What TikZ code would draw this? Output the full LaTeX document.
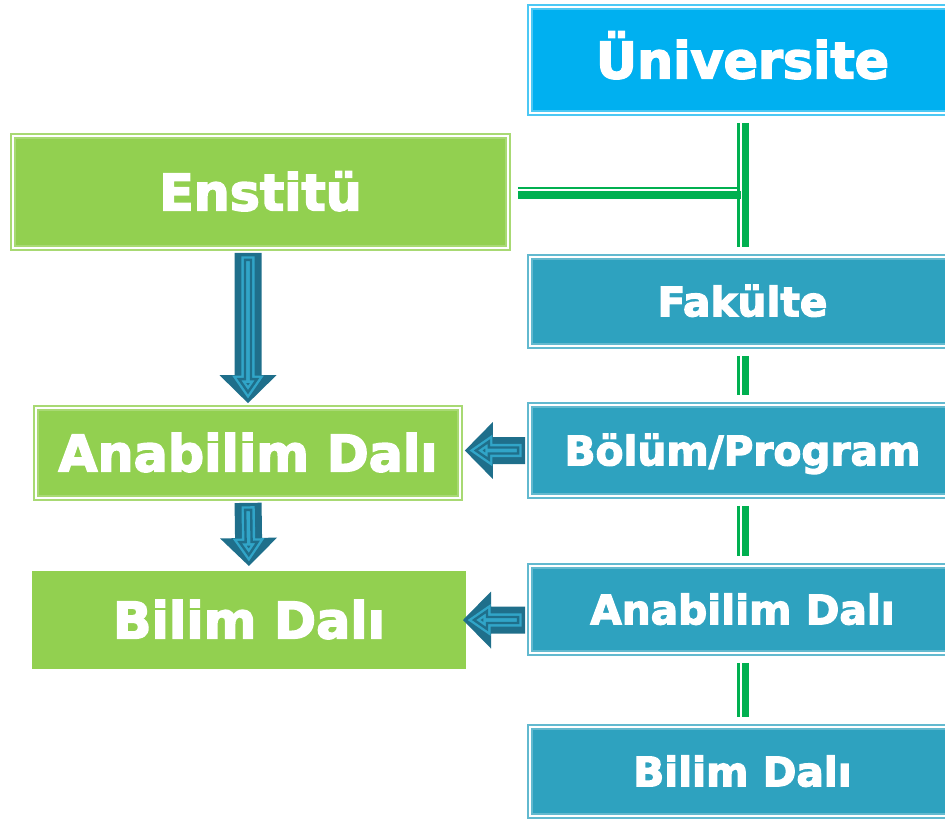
\documentclass[tikz,border=0pt]{standalone}
\usepackage{fontspec}
\setmainfont{DejaVu Sans}[BoldFeatures={FakeBold=3}]
\usepackage{tikz}
\usetikzlibrary{positioning, calc}
\definecolor{unicyan}{RGB}{0,176,240}
\definecolor{facteal}{RGB}{46,162,191}
\definecolor{enstgreen}{RGB}{146,208,80}
\definecolor{linkgreen}{RGB}{0,176,80}
\definecolor{arrowdark}{RGB}{31,111,139}
\definecolor{arrowlight}{RGB}{49,165,200}
\tikzset{framed/.style={rectangle,inner sep=0pt,outer sep=0pt,text=white,double=white,double distance=1.5pt,line width=1.6pt},
         bigtext/.style={font=\bfseries\fontsize{38}{44}\selectfont,text height=27.7pt,text depth=0pt},
         midtext/.style={font=\bfseries\fontsize{30.5}{36}\selectfont,text height=22.2pt,text depth=0pt},
         unibox/.style={framed,bigtext,fill=unicyan,draw=unicyan!70!white,minimum width=318.55pt,minimum height=79.3pt},
         facbox/.style={framed,midtext,fill=facteal,draw=facteal!75!white,minimum width=318.55pt},
         instbox/.style={framed,bigtext,fill=enstgreen,draw=enstgreen!80!white},
         plainbox/.style={rectangle,inner sep=0pt,outer sep=0pt,text=white,bigtext,fill=enstgreen},
         linkthick/.style={linkgreen,line width=5.5pt,shorten <=7.5pt,shorten >=7.5pt},
         linkthin/.style={linkgreen,line width=1.9pt,shorten <=7.5pt,shorten >=7.5pt},
         arrowbody/.style={fill=arrowdark},
         arrowline/.style={draw=arrowlight,double=arrowdark,double distance=1.8pt,line width=1.8pt,line join=miter}}
\newcommand{\blockarrow}[2]{%
  \path let \p1=(#1), \p2=(#2), \n1={atan2(\y2-\y1,\x2-\x1)}, \n2={veclen(\x2-\x1,\y2-\y1)/0.75} in
    \pgfextra{\pgfmathparse{\n1}\xdef\arrang{\pgfmathresult}\pgfmathparse{\n2}\xdef\arrlen{\pgfmathresult}};
  \begin{scope}[shift={(#1)},rotate=\arrang]
    \fill[arrowbody] (5,13.5) -- ({\arrlen-33},13.5) -- ({\arrlen-33},28.5) -- ({\arrlen-5},0)
      -- ({\arrlen-33},-28.5) -- ({\arrlen-33},-13.5) -- (5,-13.5) -- cycle;
    \draw[arrowline] (12,3) -- ({\arrlen-29},3) -- ({\arrlen-29},9) -- ({\arrlen-16},0)
      -- ({\arrlen-29},-9) -- ({\arrlen-29},-3) -- (12,-3) -- cycle;
  \end{scope}}
\begin{document}
\begin{tikzpicture}[x=0.75pt,y=0.75pt]
    \useasboundingbox (0,0) rectangle (945,-819);
    \clip (0,0) rectangle (945,-819);
    % university column
    \node (uni) [unibox] at (742.5,-60) {Üniversite};
    \node (fak) [facbox, minimum height=66.55pt, below=108.2pt of uni] {Fakülte};
    \node (bol) [facbox, minimum height=68.05pt, below=44.45pt of fak] {Bölüm/Program};
    \node (anaR) [facbox, minimum height=65.05pt, below=52.7pt of bol] {Anabilim Dalı};
    \node (bilR) [facbox, minimum height=66.55pt, below=55.7pt of anaR] {Bilim Dalı};
    % institute column
    \node (ens) [instbox, minimum width=371.05pt, minimum height=83.8pt] at (260.5,-192) {Enstitü};
    \node (anaL) [instbox, minimum width=317.8pt, minimum height=67.3pt] at (248,-453) {Anabilim Dalı};
    \node (bilL) [plainbox, minimum width=325.5pt, minimum height=73.5pt] at (249,-620) {Bilim Dalı};
    % links
    \coordinate (tee) at (ens.east -| uni.south);
    \foreach \a/\b in {uni/fak,fak/bol,bol/anaR,anaR/bilR} {
      \draw[linkthick] ([xshift=2.1pt]\a.south) -- ([xshift=2.1pt]\b.north);
      \draw[linkthin] ([xshift=-3pt]\a.south) -- ([xshift=-3pt]\b.north);
    }
    \draw[linkthick, shorten >=0pt] ([yshift=-2.25pt]ens.east) -- ([xshift=-1pt,yshift=-2.25pt]tee);
    \draw[linkthin, shorten >=0pt] ([yshift=3pt]ens.east) -- ([xshift=-3pt,yshift=3pt]tee);
    % block arrows
    \blockarrow{ens.south -| anaL.north}{anaL.north}
    \blockarrow{anaL.south}{bilL.north}
    \blockarrow{bol.west}{bol.west -| anaL.east}
    \blockarrow{bilL.east -| anaR.west}{[xshift=-6pt]bilL.east}
\end{tikzpicture}
\end{document}
